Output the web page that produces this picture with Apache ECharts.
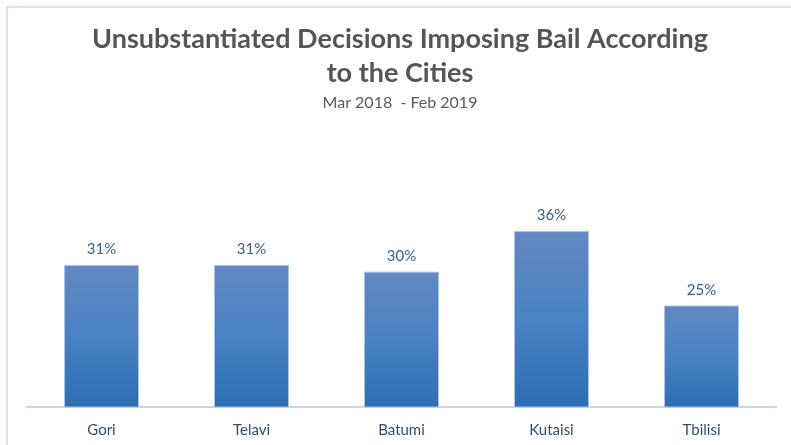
<!DOCTYPE html>
<html>
<head>
<meta charset="utf-8">
<script src="https://cdn.jsdelivr.net/npm/echarts@6/dist/echarts.min.js"></script>
<style>
  html, body { margin: 0; padding: 0; background: #ffffff; }
  #chart { width: 791px; height: 445px; }
</style>
</head>
<body>
<div id="chart"></div>
<script>
// Share of unsubstantiated bail decisions per city, Mar 2018 - Feb 2019
const cities = ['Gori', 'Telavi', 'Batumi', 'Kutaisi', 'Tbilisi'];
const shares = [31, 31, 30, 36, 25];

const titleText = 'Unsubstantiated Decisions Imposing Bail According\nto the Cities';
const periodText = 'Mar 2018  - Feb 2019';

const chart = echarts.init(document.getElementById('chart'), null, { renderer: 'canvas' });

chart.setOption({
  backgroundColor: '#ffffff',
  animation: false,
  title: {
    text: titleText,
    subtext: periodText,
    left: 395,
    textAlign: 'center',
    top: 17,
    itemGap: 5,
    textStyle: {
      fontFamily: 'Lato',
      fontWeight: 'bold',
      fontSize: 27,
      lineHeight: 34,
      color: '#555555'
    },
    subtextStyle: {
      fontFamily: 'Lato',
      fontSize: 16,
      color: '#595959'
    }
  },
  graphic: [{
    type: 'rect',
    shape: { x: 7, y: 7, width: 820, height: 480 },
    style: { fill: 'none', stroke: '#d5e3f3', lineWidth: 2 },
    silent: true
  }],
  grid: { left: 26.5, right: 14.5, top: 204, bottom: 38 },
  xAxis: {
    type: 'category',
    data: cities,
    axisLine: { show: true, lineStyle: { color: '#c3d8ef', width: 2 } },
    axisTick: { show: false },
    axisLabel: {
      fontFamily: 'Lato',
      fontSize: 15,
      color: '#2f4d7c',
      margin: 16
    }
  },
  yAxis: {
    type: 'value',
    min: 10,
    max: 40,
    show: false,
    splitLine: { show: false }
  },
  series: [{
    type: 'bar',
    data: shares,
    barWidth: '50%',
    itemStyle: {
      color: new echarts.graphic.LinearGradient(0, 0, 0, 1, [
        { offset: 0, color: '#6289c2' },
        { offset: 0.5, color: '#4a82c4' },
        { offset: 1, color: '#2e6db2' }
      ]),
      borderColor: '#a8c4e8',
      borderWidth: 1
    },
    label: {
      show: true,
      position: 'top',
      distance: 8,
      formatter: '{c}%',
      fontFamily: 'Lato',
      fontSize: 15,
      color: '#3a5e93'
    }
  }]
});
</script>
</body>
</html>
